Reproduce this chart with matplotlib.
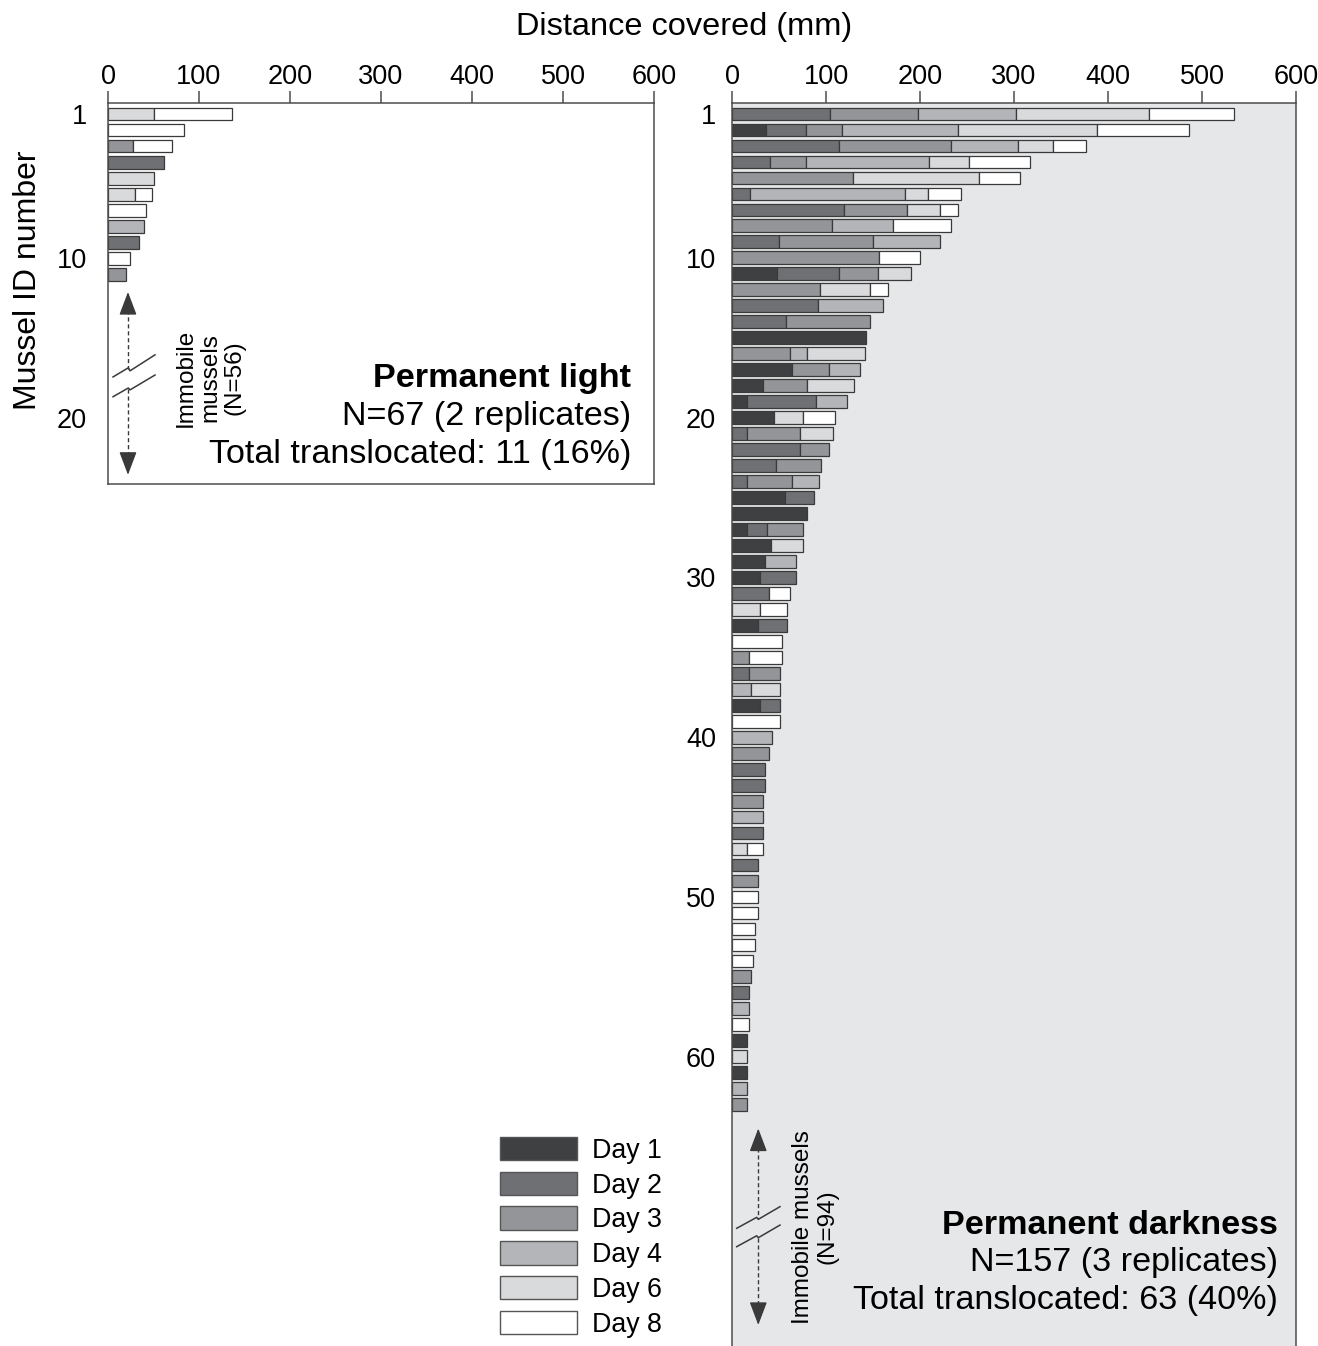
import numpy as np
import matplotlib.pyplot as plt
from matplotlib import font_manager
from matplotlib.patches import Patch

# 글꼴: 원본은 좁은 Arial 계열
names = {f.name for f in font_manager.fontManager.ttflist}
if 'Liberation Sans Narrow' in names:
    FONT, K = 'Liberation Sans Narrow', 1.2
else:
    FONT, K = 'Liberation Sans', 1.0
plt.rcParams['font.family'] = [FONT, 'DejaVu Sans']

#################################################
# 데이터 (mm, 날짜별 이동 거리)
#################################################
days = ['Day 1', 'Day 2', 'Day 3', 'Day 4', 'Day 6', 'Day 8']
day_colors = ['#3f4042', '#6f7073', '#949598', '#b4b5b8', '#d9dadc', '#ffffff']

# Permanent light (11 mussels)
light_day1 = [0, 0, 0, 0, 0, 0, 0, 0, 0, 0, 0]
light_day2 = [0, 0, 0, 62, 0, 0, 0, 0, 34, 0, 0]
light_day3 = [0, 0, 28, 0, 0, 0, 0, 0, 0, 0, 20]
light_day4 = [0, 0, 0, 0, 0, 0, 0, 40, 0, 0, 0]
light_day6 = [50, 0, 0, 0, 50, 30, 0, 0, 0, 0, 0]
light_day8 = [86, 84, 42, 0, 0, 18, 42, 0, 0, 24, 0]

# Permanent darkness (63 mussels)
dark_day1 = [0, 36, 0, 0, 0, 0, 0, 0, 0, 0,
             48, 0, 0, 0, 143, 0, 64, 33, 16, 45,
             0, 0, 0, 0, 56, 80, 16, 41, 35, 30,
             0, 0, 28, 0, 0, 0, 0, 30, 0, 0,
             0, 0, 0, 0, 0, 0, 0, 0, 0, 0,
             0, 0, 0, 0, 0, 0, 0, 0, 16, 0,
             16, 0, 0]
dark_day2 = [104, 43, 114, 40, 0, 19, 119, 0, 50, 0,
             66, 0, 91, 57, 0, 0, 0, 0, 73, 0,
             16, 72, 47, 16, 31, 0, 21, 0, 0, 38,
             39, 0, 30, 0, 0, 18, 0, 21, 0, 0,
             0, 35, 35, 0, 0, 33, 0, 28, 0, 0,
             0, 0, 0, 0, 0, 18, 0, 0, 0, 0,
             0, 0, 0]
dark_day3 = [94, 38, 119, 39, 129, 0, 67, 106, 100, 156,
             41, 94, 0, 90, 0, 62, 39, 47, 0, 0,
             56, 31, 48, 48, 0, 0, 39, 0, 0, 0,
             0, 0, 0, 0, 18, 33, 0, 0, 0, 0,
             39, 0, 0, 33, 0, 0, 0, 0, 28, 0,
             0, 0, 0, 0, 20, 0, 0, 0, 0, 0,
             0, 0, 16]
dark_day4 = [104, 123, 71, 131, 0, 165, 0, 65, 71, 0,
             0, 0, 70, 0, 0, 18, 33, 0, 33, 0,
             0, 0, 0, 29, 0, 0, 0, 0, 33, 0,
             0, 0, 0, 0, 0, 0, 20, 0, 0, 43,
             0, 0, 0, 0, 33, 0, 0, 0, 0, 0,
             0, 0, 0, 0, 0, 0, 18, 0, 0, 0,
             0, 16, 0]
dark_day6 = [142, 148, 38, 42, 134, 24, 35, 0, 0, 0,
             35, 53, 0, 0, 0, 61, 0, 50, 0, 31,
             35, 0, 0, 0, 0, 0, 0, 35, 0, 0,
             0, 30, 0, 0, 0, 0, 31, 0, 0, 0,
             0, 0, 0, 0, 0, 0, 16, 0, 0, 0,
             0, 0, 0, 0, 0, 0, 0, 0, 0, 16,
             0, 0, 0]
dark_day8 = [90, 98, 35, 65, 43, 36, 19, 62, 0, 44,
             0, 19, 0, 0, 0, 0, 0, 0, 0, 34,
             0, 0, 0, 0, 0, 0, 0, 0, 0, 0,
             23, 28, 0, 53, 35, 0, 0, 0, 51, 0,
             0, 0, 0, 0, 0, 0, 17, 0, 0, 28,
             28, 24, 24, 22, 0, 0, 0, 18, 0, 0,
             0, 0, 0]

light_ticks = [1, 10, 20]
dark_ticks = [1, 10, 20, 30, 40, 50, 60]
x_ticks = [0, 100, 200, 300, 400, 500, 600]

EDGE = '#3a3a3a'
FRAME = '#4d4d4d'
TICK_FS = 19.5 * K


def px(x, y):
    # 픽셀 좌표 -> figure 좌표
    return x / 1318, 1 - y / 1346


def stacked(ax, series):
    n = len(series[0])
    rows = np.arange(1, n + 1)
    left = np.zeros(n)
    for vals, c in zip(series, day_colors):
        vals = np.array(vals, dtype=float)
        m = vals > 0
        ax.barh(rows[m], vals[m], left=left[m], height=0.8, color=c,
                edgecolor=EDGE, linewidth=0.9)
        left += vals


def style(ax, yticks, ylim, ypad):
    ax.set_xlim(0, 600)
    ax.set_ylim(*ylim)
    ax.set_xticks(x_ticks)
    ax.set_yticks(yticks)
    ax.xaxis.tick_top()
    ax.tick_params(axis='x', direction='out', length=9, width=1.1,
                   color=FRAME, pad=0.5, labelsize=TICK_FS)
    ax.tick_params(axis='y', length=0, pad=ypad, labelsize=TICK_FS)
    for s in ax.spines.values():
        s.set_color(FRAME)
        s.set_linewidth(1.1)


def immobile(ax, x, tip_top, tip_bot, cross_hi, cross_lo, zig_x, zig_hi, zig_lo):
    kw = dict(transform=ax.transAxes, color='#3a3a3a', clip_on=False)
    ax.plot([x, x], [tip_top - 0.01, cross_hi], ls=(0, (3, 2)), lw=1.0, **kw)
    ax.plot([x, x], [cross_lo, tip_bot + 0.01], ls=(0, (3, 2)), lw=1.0, **kw)
    ax.plot(zig_x, zig_hi, lw=1.1, **kw)
    ax.plot(zig_x, zig_lo, lw=1.1, **kw)
    h = 0.035 if tip_top > 0.3 else 0.011
    for tip, d in [(tip_top, -h), (tip_bot, h)]:
        ax.annotate('', xy=(x, tip), xytext=(x, tip + d), xycoords='axes fraction',
                    arrowprops=dict(arrowstyle='-|>,head_length=0.9,head_width=0.34',
                                    color='#3a3a3a', lw=1.0, shrinkA=0, shrinkB=0,
                                    mutation_scale=16))


fig = plt.figure(figsize=(13.18, 13.46), dpi=100)

# 왼쪽: Permanent light
ax1 = fig.add_axes([108 / 1318, 1 - 484 / 1346, 546 / 1318, 381 / 1346])
stacked(ax1, [light_day1, light_day2, light_day3, light_day4, light_day6, light_day8])
style(ax1, light_ticks, (24.1, 0.31), 15)

# 오른쪽: Permanent darkness
ax2 = fig.add_axes([732 / 1318, 0, 564 / 1318, 1243 / 1346])
ax2.set_facecolor('#e6e7e8')
stacked(ax2, [dark_day1, dark_day2, dark_day3, dark_day4, dark_day6, dark_day8])
style(ax2, dark_ticks, (78.1, 0.31), 11.5)
ax2.spines['bottom'].set_visible(False)

# Immobile mussels 표시
immobile(ax1, 0.0366, 0.504, 0.024, 0.303, 0.250,
         [0.0092, 0.0372, 0.0403, 0.0861],
         [0.281, 0.305, 0.297, 0.339],
         [0.229, 0.252, 0.247, 0.286])
immobile(ax2, 0.0466, 0.175, 0.0169, 0.102, 0.087,
         [0.0083, 0.0438, 0.0466, 0.0851],
         [0.0947, 0.1035, 0.1019, 0.1121],
         [0.0799, 0.0887, 0.0871, 0.0973])

fig.text(*px(210, 378), 'Immobile\nmussels\n(N=56)', rotation=90, ha='center',
         va='center', multialignment='center', fontsize=17.5 * K, linespacing=1.15)
fig.text(*px(815, 1227), 'Immobile mussels\n(N=94)', rotation=90, ha='center',
         va='center', multialignment='center', fontsize=17.5 * K, linespacing=1.15)

# 패널 설명
for x, ys, lines in [(631, (378, 416, 455), ['Permanent light', 'N=67 (2 replicates)',
                                             'Total translocated: 11 (16%)']),
                     (1278, (1225, 1263, 1301), ['Permanent darkness', 'N=157 (3 replicates)',
                                                 'Total translocated: 63 (40%)'])]:
    for i, (y, t) in enumerate(zip(ys, lines)):
        fig.text(*px(x, y), t, ha='right', va='center', fontsize=24.6 * K,
                 fontweight='bold' if i == 0 else 'normal')

# 축 제목
fig.text(*px(684, 27), 'Distance covered (mm)', ha='center', va='center', fontsize=23.4 * K)
fig.text(*px(28, 280), 'Mussel ID number', ha='center', va='center', rotation=90,
         fontsize=23 * K)

# 범례
lfs = 19.3 * K
lpx = lfs * 100 / 72
handles = [Patch(facecolor=c, edgecolor='#555555', linewidth=1.0) for c in day_colors]
fig.legend(handles, days, loc='upper left', bbox_to_anchor=px(500, 1137),
           bbox_transform=fig.transFigure, frameon=False, fontsize=lfs,
           handlelength=77 / lpx, handleheight=26 / lpx,
           labelspacing=max(34.6 - max(26, lpx), 0) / lpx,
           handletextpad=15 / lpx, borderpad=0, borderaxespad=0)

plt.savefig('out.png', dpi=100)
